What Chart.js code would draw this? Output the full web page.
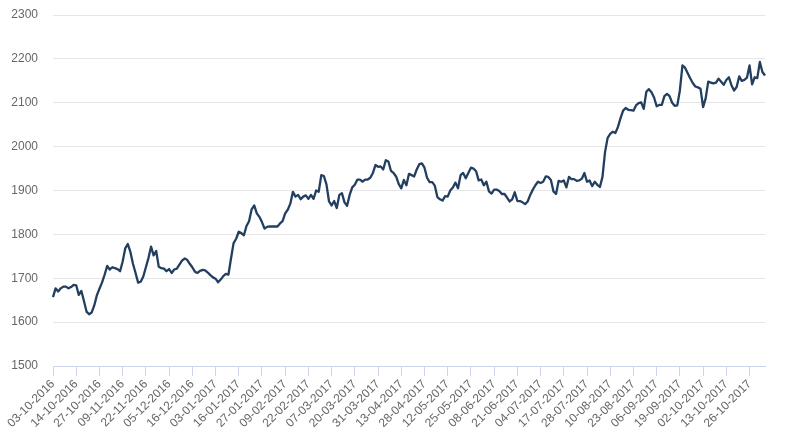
<!DOCTYPE html>
<html>
<head>
<meta charset="utf-8">
<script src="https://cdn.jsdelivr.net/npm/chart.js@4"></script>
<style>
  body { margin: 0; background: #fff; }
</style>
</head>
<body>
<canvas id="priceChart" width="785" height="440"></canvas>
<script>
// trading days: weekdays from first to last date, minus market holidays
const firstDay = '2016-10-03';
const lastDay = '2017-11-03';
const holidays = ['2016-12-26', '2016-12-27', '2017-01-02', '2017-04-14', '2017-04-17',
	'2017-05-01', '2017-05-29', '2017-08-28'];
const labelStep = 9; // a label every 9 trading days

const prices = [
	1657, 1677, 1670, 1677, 1681, 1681, 1677, 1680, 1685, 1684,
	1662, 1671, 1648, 1624, 1618, 1622, 1638, 1661, 1676, 1690,
	1708, 1728, 1720, 1725, 1723, 1721, 1716, 1738, 1768, 1778,
	1760, 1733, 1712, 1690, 1692, 1704, 1725, 1746, 1772, 1752,
	1762, 1726, 1723, 1722, 1716, 1721, 1712, 1720, 1722, 1731,
	1740, 1745, 1742, 1733, 1725, 1715, 1712, 1717, 1719, 1718,
	1713, 1707, 1702, 1699, 1691, 1697, 1705, 1710, 1708, 1745,
	1780, 1790, 1806, 1803, 1798, 1819, 1830, 1857, 1866, 1848,
	1840, 1828, 1813, 1817, 1818, 1818, 1818, 1818, 1825, 1830,
	1848, 1856, 1870, 1897, 1886, 1890, 1880, 1886, 1889, 1881,
	1890, 1881, 1900, 1897, 1935, 1933, 1914, 1875, 1866, 1876,
	1860, 1890, 1894, 1873, 1865, 1890, 1907, 1913, 1925, 1925,
	1920, 1925, 1925, 1929, 1940, 1958, 1954, 1955, 1948, 1969,
	1966, 1945, 1940, 1932, 1915, 1905, 1924, 1912, 1938, 1935,
	1932, 1948, 1960, 1962, 1952, 1929, 1919, 1919, 1911, 1885,
	1880, 1877, 1887, 1886, 1900, 1907, 1918, 1905, 1935, 1940,
	1928, 1940, 1952, 1950, 1944, 1923, 1925, 1912, 1920, 1898,
	1893, 1902, 1902, 1899, 1892, 1892, 1884, 1875, 1880, 1896,
	1876, 1876, 1873, 1869, 1875, 1890, 1902, 1912, 1920, 1917,
	1920, 1932, 1931, 1924, 1898, 1892, 1922, 1920, 1923, 1907,
	1931, 1926, 1926, 1922, 1923, 1927, 1940, 1920, 1923, 1910,
	1920, 1913, 1908, 1931, 1988, 2020, 2029, 2034, 2031, 2045,
	2065, 2082, 2088, 2084, 2083, 2082, 2094, 2099, 2101, 2086,
	2125, 2131, 2124, 2112, 2092, 2095, 2095, 2115, 2120, 2115,
	2100, 2093, 2094, 2128, 2185, 2180, 2168, 2156, 2145, 2137,
	2135, 2132, 2090, 2110, 2148, 2146, 2144, 2146, 2155, 2148,
	2141, 2152, 2158, 2140, 2128, 2136, 2160, 2150, 2152, 2157,
	2185, 2142, 2158, 2156, 2193, 2170, 2162
];

const yMin = 1500;
const yMax = 2300;
const yStep = 100;

// build the date labels dd-mm-yyyy
function tradingDays(from, to, skip) {
	const out = [];
	const d = new Date(from + 'T12:00:00Z');
	const end = new Date(to + 'T12:00:00Z');
	while (d <= end) {
		const iso = d.toISOString().slice(0, 10);
		const wd = d.getUTCDay();
		if (wd !== 0 && wd !== 6 && skip.indexOf(iso) === -1) {
			const p = iso.split('-');
			out.push(p[2] + '-' + p[1] + '-' + p[0]);
		}
		d.setUTCDate(d.getUTCDate() + 1);
	}
	return out;
}

const dates = tradingDays(firstDay, lastDay, holidays);

const ctx = document.getElementById('priceChart').getContext('2d');
Chart.defaults.font.family = '"Liberation Sans", Arial, sans-serif';
Chart.defaults.font.size = 12;

new Chart(ctx, {
	type: 'line',
	data: {
		labels: dates,
		datasets: [{
			data: prices,
			borderColor: '#233f60',
			borderWidth: 2.3,
			pointRadius: 0,
			tension: 0,
			fill: false,
			borderJoinStyle: 'round'
		}]
	},
	options: {
		responsive: false,
		animation: false,
		layout: { padding: { top: 15, right: 20, left: 0, bottom: 0 } },
		plugins: {
			legend: { display: false },
			tooltip: { enabled: false }
		},
		scales: {
			x: {
				type: 'category',
				offset: false,
				afterFit: scale => { scale.height = 74; },
				border: { display: true, color: '#ccd6eb', width: 1 },
				// ticks with a null label are dropped, so every remaining tick gets a mark
				grid: {
					drawOnChartArea: false,
					drawTicks: true,
					tickLength: 10,
					color: '#ccd6eb'
				},
				ticks: {
					autoSkip: false,
					minRotation: 45,
					maxRotation: 45,
					padding: 1,
					color: '#666666',
					callback: function (value, index) {
						return index % labelStep === 0 ? this.getLabelForValue(value) : null;
					}
				}
			},
			y: {
				min: yMin,
				max: yMax,
				afterFit: scale => {
					scale.width = 53;
					scale.paddingTop = 0;
					scale.paddingBottom = 0;
				},
				border: { display: false },
				grid: { color: '#e6e6e6', drawTicks: false },
				ticks: {
					stepSize: yStep,
					padding: 15,
					color: '#666666',
					callback: v => String(v)
				}
			}
		}
	}
});
</script>
</body>
</html>
